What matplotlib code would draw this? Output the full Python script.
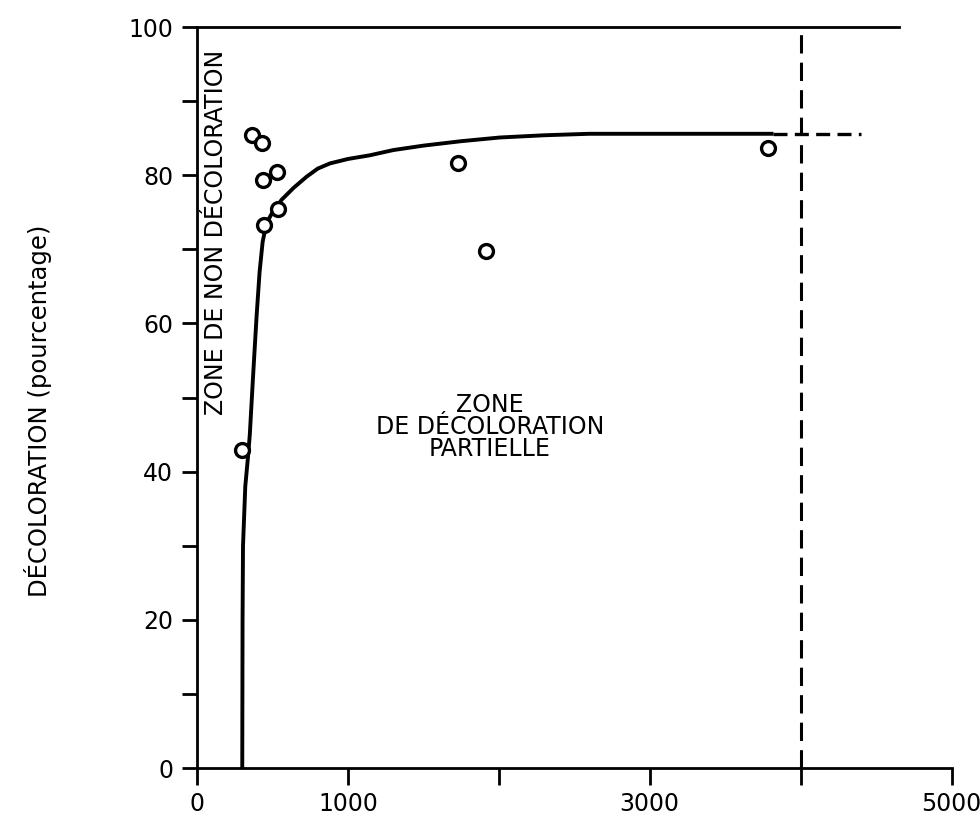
import matplotlib
matplotlib.use("Agg")
from matplotlib import pyplot as plt

plt.rcParams['font.family'] = ['DejaVu Sans']

# measured points
pts_x = [296, 362, 428, 435, 528, 446, 534, 1730, 1914, 3781]
pts_y = [42.9, 85.4, 84.4, 79.4, 80.5, 73.3, 75.4, 81.7, 69.8, 83.7]

# fitted curve
curve_x = [300, 302, 305, 320, 338, 350, 372, 395, 415, 435, 460, 500, 561,
           640, 726, 800, 881, 1000, 1146, 1300, 1500, 1750, 2007, 2300, 2600,
           3000, 3820]
curve_y = [0, 20, 30, 38, 42, 45, 53, 61, 67, 71, 73.5, 75, 76.7,
           78.3, 79.8, 80.9, 81.6, 82.2, 82.7, 83.4, 84.0, 84.6, 85.1, 85.4, 85.6,
           85.6, 85.6]
plateau_x = [3820, 4400]
plateau_y = [85.6, 85.6]

limit_x = 4000

xticks = [0, 1000, 2000, 3000, 4000, 5000]
xlabels = ['0', '1000', '', '3000', '', '5000']
yticks = [0, 20, 40, 60, 80, 100]

fig = plt.figure(figsize=(9.8, 8.16), dpi=100)
ax = fig.add_axes([0.201, 0.0588, 0.770, 0.908])
ax.set_xlim(0, 5000)
ax.set_ylim(0, 100)

lw = 2.0
lw_curve = 2.8
ax.plot(curve_x, curve_y, color='black', lw=lw_curve, solid_capstyle='butt',
        solid_joinstyle='round', zorder=3)
ax.plot(plateau_x, plateau_y, color='black', lw=2.4, dashes=(4.2, 2.2), zorder=3)
ax.plot([limit_x, limit_x], [0, 100], color='black', lw=2.2, dashes=(6, 3), zorder=3)
ax.plot([0, 4650], [100, 100], color='black', lw=lw, clip_on=False, zorder=3)

ax.plot(pts_x, pts_y, linestyle='none', marker='o', markersize=10,
        markerfacecolor='white', markeredgecolor='black', markeredgewidth=2.4,
        zorder=4, clip_on=False)

for s in ['top', 'right']:
    ax.spines[s].set_visible(False)
for s in ['left', 'bottom']:
    ax.spines[s].set_linewidth(lw)

ax.set_xticks(xticks)
ax.set_xticklabels(xlabels)
ax.set_yticks(yticks)
ax.set_yticks([10, 30, 50, 70, 90], minor=True)
ax.tick_params(axis='both', which='both', direction='out', width=lw, labelsize=17)
ax.tick_params(axis='y', which='both', length=11, pad=6)
ax.tick_params(axis='x', which='both', length=12, pad=5)

ax.set_ylabel('DÉCOLORATION (pourcentage)', fontsize=17.5)
ax.yaxis.set_label_coords(-0.192, 0.482)

ax.text(125, 72.3, 'ZONE DE NON DÉCOLORATION', rotation=90, ha='center', va='center',
        fontsize=17)
ax.text(1940, 46.0, 'ZONE\nDE DÉCOLORATION\nPARTIELLE', ha='center', va='center',
        fontsize=17, linespacing=0.88)

fig.savefig('out.png', dpi=100)
